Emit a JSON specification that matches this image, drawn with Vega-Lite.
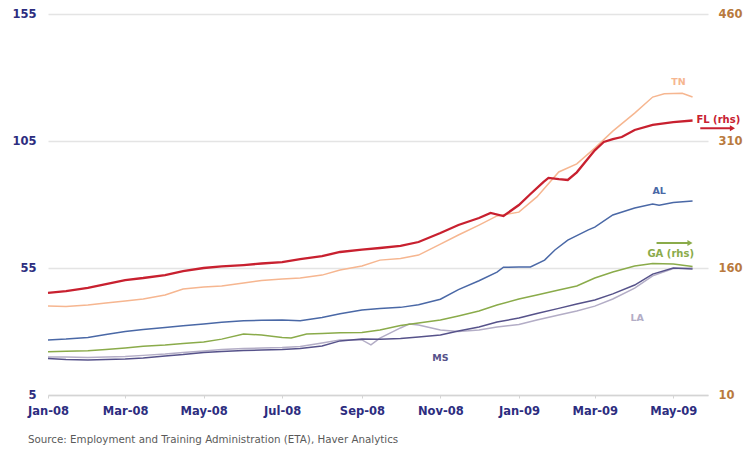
{
  "$schema": "https://vega.github.io/schema/vega-lite/v6.json",
  "width": 660,
  "height": 381,
  "autosize": {"type": "none"},
  "padding": {"left": 48, "top": 14, "right": 40, "bottom": 60},
  "background": "white",
  "config": {"view": {"stroke": null}, "font": "DejaVu Sans"},
  "title": {
    "text": "Source:  Employment and Training Administration (ETA), Haver Analytics",
    "orient": "bottom", "anchor": "start", "frame": "group", "dx": -20, "offset": 18,
    "fontSize": 10.3, "fontWeight": "normal", "color": "#5a5a5a", "font": "DejaVu Sans"
  },
  "datasets": {
    "lhs": [
      {"s": "TN", "d": "2008-01-01", "v": 40}, {"s": "TN", "d": "2008-01-15", "v": 39.8}, {"s": "TN", "d": "2008-02-01", "v": 40.4}, {"s": "TN", "d": "2008-02-15", "v": 41.2},
      {"s": "TN", "d": "2008-03-01", "v": 42}, {"s": "TN", "d": "2008-03-15", "v": 42.8}, {"s": "TN", "d": "2008-04-01", "v": 44.4}, {"s": "TN", "d": "2008-04-15", "v": 46.7},
      {"s": "TN", "d": "2008-05-01", "v": 47.5}, {"s": "TN", "d": "2008-05-15", "v": 47.9}, {"s": "TN", "d": "2008-06-01", "v": 49.1}, {"s": "TN", "d": "2008-06-15", "v": 50.1},
      {"s": "TN", "d": "2008-07-01", "v": 50.7}, {"s": "TN", "d": "2008-07-15", "v": 51.1}, {"s": "TN", "d": "2008-08-01", "v": 52.2}, {"s": "TN", "d": "2008-08-15", "v": 54.2},
      {"s": "TN", "d": "2008-09-01", "v": 55.8}, {"s": "TN", "d": "2008-09-15", "v": 58.1}, {"s": "TN", "d": "2008-10-01", "v": 58.7}, {"s": "TN", "d": "2008-10-15", "v": 60.1},
      {"s": "TN", "d": "2008-11-01", "v": 64.4}, {"s": "TN", "d": "2008-11-15", "v": 68}, {"s": "TN", "d": "2008-12-01", "v": 71.9}, {"s": "TN", "d": "2008-12-15", "v": 75.5},
      {"s": "TN", "d": "2009-01-01", "v": 77}, {"s": "TN", "d": "2009-01-15", "v": 83}, {"s": "TN", "d": "2009-02-01", "v": 92.8}, {"s": "TN", "d": "2009-02-15", "v": 96},
      {"s": "TN", "d": "2009-03-01", "v": 102.2}, {"s": "TN", "d": "2009-03-15", "v": 108.9}, {"s": "TN", "d": "2009-04-01", "v": 116}, {"s": "TN", "d": "2009-04-15", "v": 122.3},
      {"s": "TN", "d": "2009-04-24", "v": 123.6}, {"s": "TN", "d": "2009-05-08", "v": 123.8}, {"s": "TN", "d": "2009-05-16", "v": 122.3},

      {"s": "AL", "d": "2008-01-01", "v": 26.7}, {"s": "AL", "d": "2008-01-15", "v": 27}, {"s": "AL", "d": "2008-02-01", "v": 27.6}, {"s": "AL", "d": "2008-02-15", "v": 28.8},
      {"s": "AL", "d": "2008-03-01", "v": 30}, {"s": "AL", "d": "2008-03-15", "v": 30.8}, {"s": "AL", "d": "2008-04-01", "v": 31.6}, {"s": "AL", "d": "2008-04-15", "v": 32.3},
      {"s": "AL", "d": "2008-05-01", "v": 33}, {"s": "AL", "d": "2008-05-15", "v": 33.6}, {"s": "AL", "d": "2008-06-01", "v": 34.2}, {"s": "AL", "d": "2008-06-15", "v": 34.4},
      {"s": "AL", "d": "2008-07-01", "v": 34.5}, {"s": "AL", "d": "2008-07-15", "v": 34.2}, {"s": "AL", "d": "2008-08-01", "v": 35.5}, {"s": "AL", "d": "2008-08-15", "v": 37},
      {"s": "AL", "d": "2008-09-01", "v": 38.5}, {"s": "AL", "d": "2008-09-15", "v": 39.1}, {"s": "AL", "d": "2008-10-01", "v": 39.5}, {"s": "AL", "d": "2008-10-15", "v": 40.5},
      {"s": "AL", "d": "2008-11-01", "v": 42.7}, {"s": "AL", "d": "2008-11-15", "v": 46.5}, {"s": "AL", "d": "2008-12-01", "v": 50}, {"s": "AL", "d": "2008-12-15", "v": 53.4},
      {"s": "AL", "d": "2008-12-20", "v": 55.3}, {"s": "AL", "d": "2009-01-01", "v": 55.4}, {"s": "AL", "d": "2009-01-10", "v": 55.4}, {"s": "AL", "d": "2009-01-21", "v": 58.1},
      {"s": "AL", "d": "2009-01-29", "v": 62.1}, {"s": "AL", "d": "2009-02-08", "v": 66}, {"s": "AL", "d": "2009-02-24", "v": 70}, {"s": "AL", "d": "2009-03-01", "v": 71.1},
      {"s": "AL", "d": "2009-03-15", "v": 75.9}, {"s": "AL", "d": "2009-04-01", "v": 78.6}, {"s": "AL", "d": "2009-04-15", "v": 80.2}, {"s": "AL", "d": "2009-04-20", "v": 79.7},
      {"s": "AL", "d": "2009-05-01", "v": 80.8}, {"s": "AL", "d": "2009-05-16", "v": 81.4},

      {"s": "LA", "d": "2008-01-01", "v": 20}, {"s": "LA", "d": "2008-01-15", "v": 20}, {"s": "LA", "d": "2008-02-01", "v": 19.8}, {"s": "LA", "d": "2008-02-15", "v": 20},
      {"s": "LA", "d": "2008-03-01", "v": 20.2}, {"s": "LA", "d": "2008-03-15", "v": 20.6}, {"s": "LA", "d": "2008-04-01", "v": 21.1}, {"s": "LA", "d": "2008-04-15", "v": 21.7},
      {"s": "LA", "d": "2008-05-01", "v": 22.3}, {"s": "LA", "d": "2008-05-15", "v": 22.9}, {"s": "LA", "d": "2008-06-01", "v": 23.3}, {"s": "LA", "d": "2008-06-15", "v": 23.5},
      {"s": "LA", "d": "2008-07-01", "v": 23.7}, {"s": "LA", "d": "2008-07-15", "v": 24.1}, {"s": "LA", "d": "2008-08-01", "v": 25.5}, {"s": "LA", "d": "2008-08-15", "v": 26.7},
      {"s": "LA", "d": "2008-09-01", "v": 26.7}, {"s": "LA", "d": "2008-09-08", "v": 24.7}, {"s": "LA", "d": "2008-09-15", "v": 27.4}, {"s": "LA", "d": "2008-10-01", "v": 31.4},
      {"s": "LA", "d": "2008-10-08", "v": 33}, {"s": "LA", "d": "2008-10-15", "v": 32.6}, {"s": "LA", "d": "2008-11-01", "v": 30.6}, {"s": "LA", "d": "2008-11-15", "v": 30},
      {"s": "LA", "d": "2008-12-01", "v": 30.6}, {"s": "LA", "d": "2008-12-15", "v": 31.8}, {"s": "LA", "d": "2009-01-01", "v": 32.8}, {"s": "LA", "d": "2009-01-15", "v": 34.5},
      {"s": "LA", "d": "2009-02-01", "v": 36.5}, {"s": "LA", "d": "2009-02-15", "v": 38.1}, {"s": "LA", "d": "2009-03-01", "v": 40}, {"s": "LA", "d": "2009-03-15", "v": 42.8},
      {"s": "LA", "d": "2009-04-01", "v": 47.1}, {"s": "LA", "d": "2009-04-15", "v": 51.9}, {"s": "LA", "d": "2009-05-01", "v": 54.8}, {"s": "LA", "d": "2009-05-16", "v": 55},

      {"s": "MS", "d": "2008-01-01", "v": 19.4}, {"s": "MS", "d": "2008-01-15", "v": 19}, {"s": "MS", "d": "2008-02-01", "v": 18.8}, {"s": "MS", "d": "2008-02-15", "v": 19},
      {"s": "MS", "d": "2008-03-01", "v": 19.2}, {"s": "MS", "d": "2008-03-15", "v": 19.6}, {"s": "MS", "d": "2008-04-01", "v": 20.4}, {"s": "MS", "d": "2008-04-15", "v": 20.9},
      {"s": "MS", "d": "2008-05-01", "v": 21.7}, {"s": "MS", "d": "2008-05-15", "v": 22.1}, {"s": "MS", "d": "2008-06-01", "v": 22.5}, {"s": "MS", "d": "2008-06-15", "v": 22.7},
      {"s": "MS", "d": "2008-07-01", "v": 22.9}, {"s": "MS", "d": "2008-07-15", "v": 23.3}, {"s": "MS", "d": "2008-08-01", "v": 24.3}, {"s": "MS", "d": "2008-08-15", "v": 26.3},
      {"s": "MS", "d": "2008-09-01", "v": 27}, {"s": "MS", "d": "2008-09-15", "v": 26.9}, {"s": "MS", "d": "2008-10-01", "v": 27.2}, {"s": "MS", "d": "2008-10-15", "v": 27.8},
      {"s": "MS", "d": "2008-11-01", "v": 28.6}, {"s": "MS", "d": "2008-11-15", "v": 30.2}, {"s": "MS", "d": "2008-12-01", "v": 31.8}, {"s": "MS", "d": "2008-12-15", "v": 33.7},
      {"s": "MS", "d": "2009-01-01", "v": 35.3}, {"s": "MS", "d": "2009-01-15", "v": 37.1}, {"s": "MS", "d": "2009-02-01", "v": 39.1}, {"s": "MS", "d": "2009-02-15", "v": 40.8},
      {"s": "MS", "d": "2009-03-01", "v": 42.4}, {"s": "MS", "d": "2009-03-15", "v": 44.8}, {"s": "MS", "d": "2009-04-01", "v": 48.3}, {"s": "MS", "d": "2009-04-15", "v": 52.6},
      {"s": "MS", "d": "2009-05-01", "v": 55}, {"s": "MS", "d": "2009-05-16", "v": 54.6}
    ],
    "rhs": [
      {"s": "GA", "d": "2008-01-01", "v": 61.1}, {"s": "GA", "d": "2008-01-15", "v": 61.6}, {"s": "GA", "d": "2008-02-01", "v": 62.3}, {"s": "GA", "d": "2008-02-15", "v": 63.7},
      {"s": "GA", "d": "2008-03-01", "v": 65.5}, {"s": "GA", "d": "2008-03-15", "v": 67.5}, {"s": "GA", "d": "2008-04-01", "v": 69}, {"s": "GA", "d": "2008-04-15", "v": 70.8},
      {"s": "GA", "d": "2008-05-01", "v": 72.6}, {"s": "GA", "d": "2008-05-15", "v": 76}, {"s": "GA", "d": "2008-06-01", "v": 82}, {"s": "GA", "d": "2008-06-15", "v": 80.9},
      {"s": "GA", "d": "2008-07-01", "v": 77.9}, {"s": "GA", "d": "2008-07-08", "v": 77.3}, {"s": "GA", "d": "2008-07-20", "v": 82}, {"s": "GA", "d": "2008-08-01", "v": 82.6},
      {"s": "GA", "d": "2008-08-15", "v": 83.6}, {"s": "GA", "d": "2008-09-01", "v": 83.8}, {"s": "GA", "d": "2008-09-15", "v": 86.8}, {"s": "GA", "d": "2008-10-01", "v": 92},
      {"s": "GA", "d": "2008-10-15", "v": 95}, {"s": "GA", "d": "2008-11-01", "v": 98.6}, {"s": "GA", "d": "2008-11-15", "v": 103.3}, {"s": "GA", "d": "2008-12-01", "v": 109.2},
      {"s": "GA", "d": "2008-12-15", "v": 116.3}, {"s": "GA", "d": "2009-01-01", "v": 123.4}, {"s": "GA", "d": "2009-01-15", "v": 128.1}, {"s": "GA", "d": "2009-02-01", "v": 134},
      {"s": "GA", "d": "2009-02-15", "v": 138.7}, {"s": "GA", "d": "2009-03-01", "v": 148.2}, {"s": "GA", "d": "2009-03-15", "v": 155.3}, {"s": "GA", "d": "2009-04-01", "v": 162.4},
      {"s": "GA", "d": "2009-04-15", "v": 165.3}, {"s": "GA", "d": "2009-05-01", "v": 164.7}, {"s": "GA", "d": "2009-05-16", "v": 161.8},

      {"s": "FL", "d": "2008-01-01", "v": 130.5}, {"s": "FL", "d": "2008-01-15", "v": 132.8}, {"s": "FL", "d": "2008-02-01", "v": 136.4}, {"s": "FL", "d": "2008-02-15", "v": 141},
      {"s": "FL", "d": "2008-03-01", "v": 145.8}, {"s": "FL", "d": "2008-03-15", "v": 148.2}, {"s": "FL", "d": "2008-04-01", "v": 151.7}, {"s": "FL", "d": "2008-04-15", "v": 156.4},
      {"s": "FL", "d": "2008-05-01", "v": 160}, {"s": "FL", "d": "2008-05-15", "v": 161.8}, {"s": "FL", "d": "2008-06-01", "v": 163.5}, {"s": "FL", "d": "2008-06-15", "v": 165.3},
      {"s": "FL", "d": "2008-07-01", "v": 167}, {"s": "FL", "d": "2008-07-15", "v": 170.6}, {"s": "FL", "d": "2008-08-01", "v": 174}, {"s": "FL", "d": "2008-08-15", "v": 178.9},
      {"s": "FL", "d": "2008-09-01", "v": 181.8}, {"s": "FL", "d": "2008-09-15", "v": 183.6}, {"s": "FL", "d": "2008-10-01", "v": 186}, {"s": "FL", "d": "2008-10-15", "v": 190.7},
      {"s": "FL", "d": "2008-11-01", "v": 201.3}, {"s": "FL", "d": "2008-11-15", "v": 210.8}, {"s": "FL", "d": "2008-12-01", "v": 219}, {"s": "FL", "d": "2008-12-10", "v": 225},
      {"s": "FL", "d": "2008-12-20", "v": 221.4}, {"s": "FL", "d": "2009-01-01", "v": 234.4}, {"s": "FL", "d": "2009-01-10", "v": 247.4}, {"s": "FL", "d": "2009-01-20", "v": 261.5},
      {"s": "FL", "d": "2009-01-24", "v": 266.5}, {"s": "FL", "d": "2009-02-01", "v": 265}, {"s": "FL", "d": "2009-02-08", "v": 264}, {"s": "FL", "d": "2009-02-15", "v": 273},
      {"s": "FL", "d": "2009-03-01", "v": 299}, {"s": "FL", "d": "2009-03-08", "v": 308.8}, {"s": "FL", "d": "2009-03-15", "v": 312.3}, {"s": "FL", "d": "2009-03-22", "v": 314.7},
      {"s": "FL", "d": "2009-04-01", "v": 323}, {"s": "FL", "d": "2009-04-15", "v": 329}, {"s": "FL", "d": "2009-05-01", "v": 332.4}, {"s": "FL", "d": "2009-05-16", "v": 334.2}
    ],
    "lhsLabels": [
      {"s": "TN", "t": "TN", "d": "2009-05-05", "v": 128.2},
      {"s": "AL", "t": "AL", "d": "2009-04-20", "v": 85.3},
      {"s": "LA", "t": "LA", "d": "2009-04-03", "v": 35.3},
      {"s": "MS", "t": "MS", "d": "2008-11-01", "v": 19.6}
    ],
    "gaLabel": [
      {"s": "GA", "t": "GA (rhs)", "d": "2009-04-29", "v": 176.5}
    ],
    "flLabel": [
      {"s": "FL", "t": "FL (rhs)", "d": "2009-05-19", "v": 334.8}
    ],
    "arrows": [
      {"s": "FL", "d": "2009-05-22", "d2": "2009-06-16", "v": 325},
      {"s": "GA", "d": "2009-04-18", "d2": "2009-05-14", "v": 189.5}
    ]
  },
  "encoding": {
    "x": {
      "field": "d", "type": "temporal",
      "scale": {"type": "utc", "domain": [{"year": 2008, "month": 1, "date": 1, "utc": true}, {"year": 2009, "month": 5, "date": 28, "utc": true}]},
      "axis": {
        "title": null,
        "values": [
          {"year": 2008, "month": 1, "date": 1, "utc": true}, {"year": 2008, "month": 3, "date": 1, "utc": true},
          {"year": 2008, "month": 5, "date": 1, "utc": true}, {"year": 2008, "month": 7, "date": 1, "utc": true},
          {"year": 2008, "month": 9, "date": 1, "utc": true}, {"year": 2008, "month": 11, "date": 1, "utc": true},
          {"year": 2009, "month": 1, "date": 1, "utc": true}, {"year": 2009, "month": 3, "date": 1, "utc": true},
          {"year": 2009, "month": 5, "date": 1, "utc": true}
        ],
        "format": "%b-%y",
        "grid": false,
        "domainColor": "#d4d4d4", "domainWidth": 1.5,
        "tickColor": "#d4d4d4", "tickSize": 3,
        "labelPadding": 7, "labelFlush": false, "labelOverlap": false,
        "labelColor": "#2d2d80", "labelFontWeight": "bold", "labelFontSize": 11.5, "labelFont": "DejaVu Sans"
      }
    }
  },
  "layer": [
    {
      "encoding": {
        "y": {
          "field": "v", "type": "quantitative",
          "scale": {"domain": [5, 155], "nice": false, "zero": false},
          "axis": {
            "orient": "left", "title": null, "values": [5, 55, 105, 155],
            "grid": true, "gridColor": "#e4e4e4", "gridWidth": 1.5,
            "domain": false, "ticks": false, "labelPadding": 12,
            "labelColor": "#2d2d80", "labelFontWeight": "bold", "labelFontSize": 11.5, "labelFont": "DejaVu Sans"
          }
        },
        "color": {
          "field": "s", "type": "nominal", "legend": null,
          "scale": {"domain": ["TN", "FL", "AL", "GA", "LA", "MS"], "range": ["#f6b690", "#c8202f", "#4a68a6", "#8aab4a", "#b3adc6", "#56528a"]}
        }
      },
      "layer": [
        {"data": {"name": "lhs"}, "mark": {"type": "line", "strokeWidth": 1.5, "clip": false}},
        {"data": {"name": "lhsLabels"}, "mark": {"type": "text", "fontSize": 9.5, "fontWeight": "bold", "align": "center", "baseline": "middle"}, "encoding": {"text": {"field": "t"}}}
      ]
    },
    {
      "encoding": {
        "y": {
          "field": "v", "type": "quantitative",
          "scale": {"domain": [10, 460], "nice": false, "zero": false},
          "axis": {
            "orient": "right", "title": null, "values": [10, 160, 310, 460],
            "grid": false, "domain": false, "ticks": false, "labelPadding": 10,
            "labelColor": "#b97a3e", "labelFontWeight": "bold", "labelFontSize": 11.5, "labelFont": "DejaVu Sans"
          }
        },
        "color": {
          "field": "s", "type": "nominal", "legend": null,
          "scale": {"domain": ["TN", "FL", "AL", "GA", "LA", "MS"], "range": ["#f6b690", "#c8202f", "#4a68a6", "#8aab4a", "#b3adc6", "#56528a"]}
        }
      },
      "layer": [
        {"data": {"name": "rhs"}, "mark": {"type": "line", "clip": false},
         "encoding": {"strokeWidth": {"field": "s", "type": "nominal", "legend": null, "scale": {"domain": ["FL", "GA"], "range": [2.3, 1.5]}}}},
        {"data": {"name": "gaLabel"}, "mark": {"type": "text", "fontSize": 10, "fontWeight": "bold", "align": "center", "baseline": "middle"}, "encoding": {"text": {"field": "t"}}},
        {"data": {"name": "flLabel"}, "mark": {"type": "text", "fontSize": 10, "fontWeight": "bold", "align": "left", "baseline": "middle"}, "encoding": {"text": {"field": "t"}}},
        {"data": {"name": "arrows"}, "mark": {"type": "rule", "strokeWidth": 2}, "encoding": {"x2": {"field": "d2"}}},
        {"data": {"name": "arrows"}, "mark": {"type": "point", "shape": "triangle-right", "filled": true, "size": 35, "opacity": 1}, "encoding": {"x": {"field": "d2", "type": "temporal"}}}
      ]
    }
  ],
  "resolve": {"scale": {"y": "independent"}, "axis": {"y": "independent"}}
}
